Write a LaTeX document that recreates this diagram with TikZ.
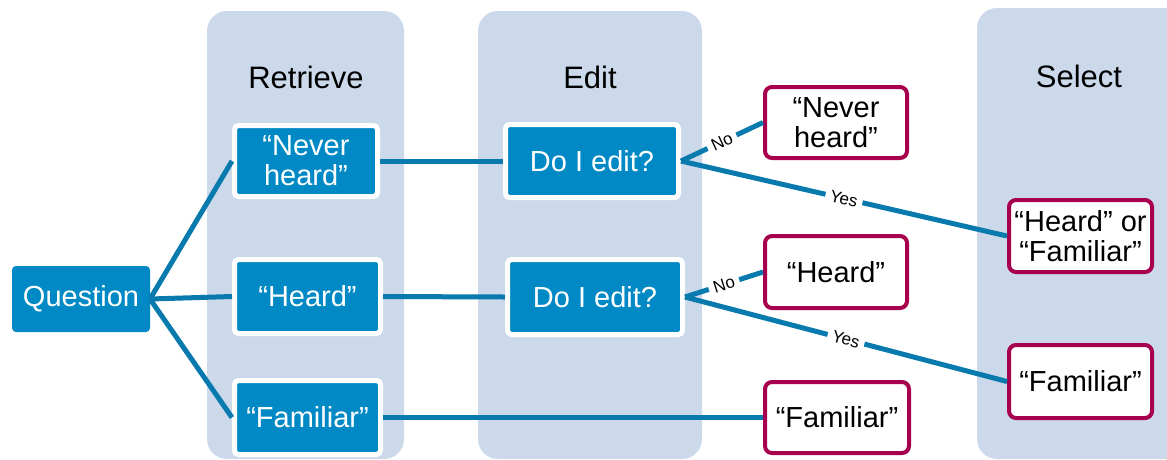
\documentclass[tikz,border=0pt]{standalone}
\usepackage{fontspec}
\setmainfont{Liberation Sans}
\definecolor{lane}{RGB}{203,217,234}
\definecolor{boxblue}{RGB}{0,137,196}
\definecolor{linkblue}{RGB}{8,122,174}
\definecolor{outcome}{RGB}{166,0,78}
\tikzset{
  lanebox/.style={fill=lane, rounded corners=20pt},
  header/.style={font=\fontsize{31}{33}\selectfont, text=black},
  bluebox/.style={rectangle, rounded corners=4pt, fill=boxblue, draw=white,
    line width=5pt, text=white, align=center, inner sep=0pt,
    font=\fontsize{29}{30}\selectfont},
  outbox/.style={rectangle, rounded corners=7pt, fill=white, draw=outcome,
    line width=4pt, text=black, align=center, inner sep=0pt,
    font=\fontsize{29}{30}\selectfont},
  link/.style={draw=linkblue, line width=5pt},
  choice/.style={midway, sloped, fill=white, inner xsep=5pt, inner ysep=2pt,
    font=\fontsize{17}{17}\selectfont, text=black},
}
\begin{document}
\begin{tikzpicture}[x=1pt, y=-1pt]
  \useasboundingbox (0,0) rectangle (1167,459);

  % column backgrounds
  \path[lanebox] (207,11) rectangle (404,459);
  \path[lanebox] (478,11) rectangle (702,459);
  \path[lanebox] (977,8) rectangle (1187,459);

  % column titles
  \node[header] (tRetrieve) at (306,77) {Retrieve};
  \node[header] (tEdit) at (590,77) {Edit};
  \node[header] (tSelect) at (1079,76) {Select};

  % retrieval stage
  \node[bluebox, draw=none, outer sep=0pt, minimum width=138pt, minimum height=66pt]
    (question) at (81,299) {Question};
  \node[bluebox, minimum width=143pt, minimum height=71pt]
    (rNever) at (306,161) {“Never\\heard”};
  \node[bluebox, minimum width=146pt, minimum height=74pt]
    (rHeard) at (307.5,296.5) {“Heard”};
  \node[bluebox, minimum width=146pt, minimum height=74pt]
    (rFamiliar) at (307.5,417.5) {“Familiar”};

  % editing stage
  \node[bluebox, minimum width=173pt, minimum height=73pt]
    (edit1) at (592,161) {Do I edit?};
  \node[bluebox, minimum width=175pt, minimum height=75pt]
    (edit2) at (595,297) {Do I edit?};

  % reported answers
  \node[outbox, minimum width=142pt, minimum height=71pt]
    (oNever) at (836,122.5) {“Never\\heard”};
  \node[outbox, minimum width=142pt, minimum height=72pt]
    (oHeard) at (836,272) {“Heard”};
  \node[outbox, minimum width=144pt, minimum height=71pt]
    (oFamiliar) at (837,417.5) {“Familiar”};
  \node[outbox, minimum width=143pt, minimum height=72pt]
    (sHeardFam) at (1080.5,236) {“Heard” or\\“Familiar”};
  \node[outbox, minimum width=143pt, minimum height=73pt]
    (sFamiliar) at (1080.5,381.5) {“Familiar”};

  % connectors
  \draw[link] (question.east) -- (rNever.west);
  \draw[link] (question.east) -- (rHeard.west);
  \draw[link] (question.east) -- (rFamiliar.west);
  \draw[link] (rNever.east) -- (edit1.west);
  \draw[link] (rHeard.east) -- (edit2.west);
  \draw[link] (rFamiliar.east) -- (oFamiliar.west);
  \draw[link] (edit1.east) -- node[choice] (no1) {No} (oNever.west);
  \draw[link] (edit1.east) -- node[choice] (yes1) {Yes} (sHeardFam.west);
  \draw[link] (edit2.east) -- node[choice] (no2) {No} (oHeard.west);
  \draw[link] (edit2.east) -- node[choice] (yes2) {Yes} (sFamiliar.west);
\end{tikzpicture}
\end{document}
